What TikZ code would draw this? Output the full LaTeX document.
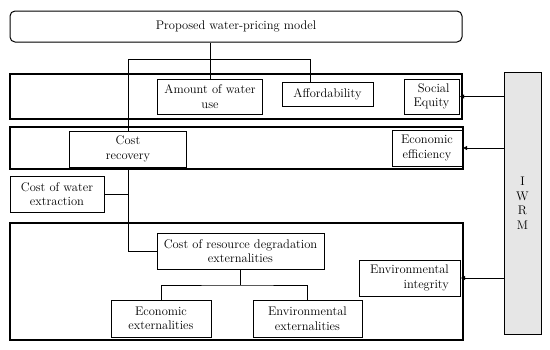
\documentclass[tikz,border=0pt]{standalone}
\usepackage{tikz}
\usetikzlibrary{arrows.meta,calc,positioning}
\definecolor{iwrmgrey}{HTML}{E6E6E6}
\tikzset{
  band/.style      = {draw=black, line width=1.5pt},
  box/.style       = {draw=black, line width=1pt, fill=white, inner sep=2pt,
                      align=center, font=\fontsize{12.5}{14.5}\selectfont},
  right box/.style = {box, align=right},
  title box/.style = {box, rounded corners=5pt},
  iwrm box/.style  = {box, fill=iwrmgrey},
  tree edge/.style = {black, line width=1pt},
  feed/.style      = {-{Latex[length=4.5pt,width=4.5pt]}, black, line width=0.9pt},
}

\begin{document}
\begin{tikzpicture}[x=1pt,y=-1pt]
  \useasboundingbox (0,0) rectangle (550,349);
  \draw[band] (10,74) rectangle (462,119);
  \draw[band] (10,127) rectangle (463,169);
  \draw[band] (10,223) rectangle (463,340);
  \node[title box, minimum width=452pt, minimum height=31pt] (model) at (236,26.5) {Proposed water-pricing model};
  \node[box, minimum width=105pt, minimum height=35pt] (amount) at (210,96.5) {Amount of water\\use};
  \node[box, minimum width=91pt, minimum height=24pt] (afford) at (327.5,94) {Affordability};
  \node[right box, minimum width=55pt, minimum height=35pt] (social) at (431.5,96.5) {Social\\Equity};
  \node[box, minimum width=117pt, minimum height=36pt] (costrec) at (128,149) {Cost\\recovery};
  \node[box, minimum width=70pt, minimum height=36pt] (econeff) at (427,148) {Economic\\efficiency};
  \node[box, minimum width=94pt, minimum height=36pt] (extract) at (57,194) {Cost of water\\extraction};
  \node[box, minimum width=167pt, minimum height=36pt] (degrad) at (240.5,251) {Cost of resource degradation\\externalities};
  \node[box, minimum width=100pt, minimum height=37pt] (econext) at (161,318.5) {Economic\\externalities};
  \node[box, minimum width=109pt, minimum height=37pt] (envext) at (307.5,318.5) {Environmental\\externalities};
  \node[right box, minimum width=101pt, minimum height=36pt] (envint) at (409.5,278) {Environmental\\integrity};
  \node[iwrm box, minimum width=37pt, minimum height=262pt] (iwrm) at (522.5,203) {I\\W\\R\\M};
  \coordinate (split) at (310,59);
  \coordinate (fork) at (240.5,285);
  \draw[tree edge] (amount.north) -- (amount.north |- model.south);
  \draw[tree edge] (costrec.north) |- (split) -- (split |- afford.north);
  \draw[tree edge] (costrec.south) |- (degrad.west);
  \draw[tree edge] (extract.east) -- (extract.east -| costrec.south);
  \draw[tree edge] (degrad.south) -- (fork);
  \draw[tree edge] (econext.north) |- (fork) -| (envext.north);
  \draw[feed] (iwrm.west |- social.east) -- (social.east);
  \draw[feed] (iwrm.west |- econeff.east) -- (econeff.east);
  \draw[feed] (iwrm.west |- envint.east) -- (envint.east);
\end{tikzpicture}
\end{document}
